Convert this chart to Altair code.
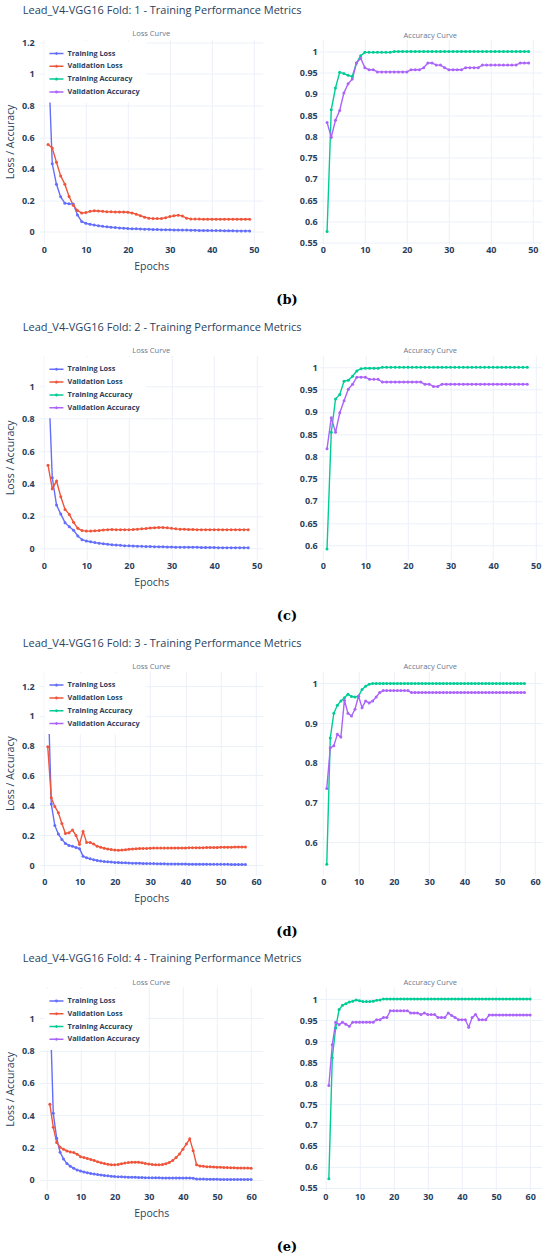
import altair as alt
import pandas as pd

# ---- per-epoch metrics, one list per fold and series ----
F1_TRAIN_LOSS = [1.14, 0.43, 0.30, 0.22, 0.18, 0.176, 0.175, 0.105, 0.064, 0.052,
                 0.046, 0.041, 0.037, 0.033, 0.030, 0.027, 0.025, 0.023, 0.021, 0.019,
                 0.018, 0.017, 0.016, 0.015, 0.014, 0.013, 0.013, 0.012, 0.011, 0.011,
                 0.010, 0.010, 0.009, 0.009, 0.008, 0.008, 0.007, 0.007, 0.007, 0.006,
                 0.006, 0.006, 0.005, 0.005, 0.005, 0.004, 0.004, 0.004, 0.004]
F1_VAL_LOSS = [0.552, 0.53, 0.44, 0.353, 0.30, 0.222, 0.167, 0.133, 0.118, 0.12,
               0.128, 0.132, 0.13, 0.128, 0.126, 0.125, 0.124, 0.124, 0.124, 0.122,
               0.118, 0.11, 0.1, 0.091, 0.085, 0.082, 0.082, 0.083, 0.088, 0.095,
               0.1, 0.104, 0.098, 0.085, 0.08, 0.079, 0.079, 0.078, 0.078, 0.078,
               0.078, 0.078, 0.078, 0.078, 0.078, 0.078, 0.078, 0.078, 0.078]
F1_TRAIN_ACC = [0.576, 0.863, 0.914, 0.951, 0.948, 0.944, 0.941, 0.973, 0.99, 0.998,
                0.998, 0.998, 0.998, 0.998, 0.998, 0.998] + [1.0] * 33
F1_VAL_ACC = ([0.833, 0.798, 0.838, 0.861, 0.902, 0.924, 0.935, 0.973, 0.984, 0.962,
               0.957, 0.957, 0.952] + [0.952] * 7 + [0.957] * 3 + [0.962]
              + [0.973] * 2 + [0.968] * 2 + [0.962] + [0.957] * 4 + [0.962] * 4
              + [0.968] * 9 + [0.973] * 3)

F2_TRAIN_LOSS = [1.116, 0.435, 0.267, 0.211, 0.158, 0.133, 0.111, 0.076, 0.053, 0.045,
                 0.04, 0.035, 0.031, 0.028, 0.025, 0.022, 0.02, 0.018, 0.016, 0.015,
                 0.014, 0.013, 0.012, 0.011, 0.011, 0.010, 0.009, 0.009, 0.008, 0.008,
                 0.007, 0.007, 0.007, 0.006, 0.006, 0.006, 0.005, 0.005, 0.005, 0.005,
                 0.004, 0.004, 0.004, 0.004, 0.004, 0.004, 0.004, 0.004]
F2_VAL_LOSS = ([0.513, 0.368, 0.415, 0.318, 0.24, 0.209, 0.16, 0.123, 0.109, 0.107,
                0.106, 0.108, 0.11, 0.113, 0.115, 0.116, 0.115, 0.115, 0.115, 0.115,
                0.116, 0.118, 0.12, 0.122, 0.125, 0.127, 0.128, 0.128, 0.126, 0.123,
                0.12, 0.118, 0.117, 0.116, 0.116] + [0.115] * 13)
F2_TRAIN_ACC = [0.592, 0.854, 0.929, 0.939, 0.969, 0.971, 0.98, 0.992, 0.997, 0.998,
                0.998, 0.998, 0.998] + [1.0] * 35
F2_VAL_ACC = ([0.817, 0.887, 0.854, 0.898, 0.925, 0.951, 0.962, 0.978, 0.978, 0.978,
               0.973, 0.973, 0.973] + [0.967] * 10 + [0.962] * 2 + [0.957] * 2
              + [0.962] * 21)

F3_TRAIN_LOSS = ([1.22, 0.409, 0.266, 0.208, 0.172, 0.145, 0.132, 0.127, 0.118, 0.11,
                  0.06, 0.049, 0.042, 0.036, 0.031, 0.027, 0.024, 0.022, 0.02, 0.018,
                  0.017, 0.016, 0.015, 0.014, 0.013, 0.012, 0.012, 0.011, 0.011, 0.010,
                  0.010, 0.009, 0.009, 0.009, 0.008, 0.008, 0.008, 0.007, 0.007, 0.007]
                 + [0.006] * 6 + [0.005] * 6 + [0.004] * 5)
F3_VAL_LOSS = ([0.793, 0.451, 0.393, 0.351, 0.279, 0.212, 0.217, 0.235, 0.199, 0.139,
                0.226, 0.152, 0.152, 0.141, 0.127, 0.12, 0.113, 0.108, 0.104, 0.101,
                0.1, 0.101, 0.103, 0.106, 0.108, 0.11, 0.111, 0.112, 0.112, 0.113]
               + [0.114] * 5 + [0.115] * 5 + [0.117] * 5 + [0.118] * 4
               + [0.12] * 4 + [0.121] * 4)
F3_TRAIN_ACC = [0.545, 0.863, 0.925, 0.945, 0.956, 0.964, 0.973, 0.967, 0.966, 0.968,
                0.985, 0.993, 0.998] + [1.0] * 44
F3_VAL_ACC = ([0.736, 0.838, 0.843, 0.872, 0.865, 0.958, 0.925, 0.918, 0.935, 0.968,
               0.939, 0.956, 0.951, 0.956, 0.966, 0.977, 0.982] + [0.982] * 7
              + [0.977] * 33)

F4_TRAIN_LOSS = ([1.117, 0.412, 0.258, 0.171, 0.13, 0.101, 0.085, 0.072, 0.062, 0.055,
                  0.049, 0.044, 0.04, 0.036, 0.033, 0.03, 0.027, 0.025, 0.023, 0.021,
                  0.02, 0.019, 0.018, 0.017, 0.017, 0.016, 0.015, 0.015, 0.014, 0.014,
                  0.013, 0.013, 0.013, 0.012, 0.012, 0.012, 0.012, 0.012, 0.012, 0.012,
                  0.012, 0.012, 0.01, 0.006, 0.005, 0.005, 0.004, 0.004, 0.004, 0.004]
                 + [0.003] * 10)
F4_VAL_LOSS = [0.468, 0.326, 0.231, 0.202, 0.19, 0.179, 0.173, 0.169, 0.159, 0.144,
               0.138, 0.133, 0.127, 0.12, 0.112, 0.106, 0.101, 0.097, 0.094, 0.093,
               0.096, 0.1, 0.104, 0.107, 0.109, 0.11, 0.109, 0.106, 0.102, 0.098,
               0.095, 0.093, 0.093, 0.095, 0.1, 0.108, 0.12, 0.138, 0.16, 0.19,
               0.222, 0.254, 0.181, 0.094, 0.086, 0.084, 0.082, 0.081, 0.08, 0.079,
               0.078, 0.077, 0.076, 0.075, 0.075, 0.074, 0.074, 0.073, 0.073, 0.072]
F4_TRAIN_ACC = [0.572, 0.86, 0.931, 0.975, 0.985, 0.989, 0.993, 0.995, 0.998, 0.996,
                0.994, 0.994, 0.994, 0.995, 0.997, 0.998, 1.0] + [1.0] * 43
F4_VAL_ACC = ([0.794, 0.891, 0.945, 0.939, 0.945, 0.94, 0.935, 0.945, 0.945, 0.945,
               0.945, 0.945, 0.945, 0.945, 0.951, 0.951, 0.956, 0.956, 0.972, 0.972,
               0.972, 0.972, 0.972, 0.972, 0.967, 0.967, 0.967, 0.963, 0.967, 0.963,
               0.963, 0.963, 0.956, 0.956, 0.956, 0.967, 0.961, 0.956, 0.951, 0.951,
               0.951, 0.933, 0.956, 0.963, 0.951, 0.951, 0.951, 0.962, 0.962, 0.962]
              + [0.962] * 10)

SERIES = ["Training Loss", "Validation Loss", "Training Accuracy", "Validation Accuracy"]
COLORS = ["#636efa", "#ef553b", "#00cc96", "#ab63fa"]

FOLDS = [
    (F1_TRAIN_LOSS, F1_VAL_LOSS, F1_TRAIN_ACC, F1_VAL_ACC),
    (F2_TRAIN_LOSS, F2_VAL_LOSS, F2_TRAIN_ACC, F2_VAL_ACC),
    (F3_TRAIN_LOSS, F3_VAL_LOSS, F3_TRAIN_ACC, F3_VAL_ACC),
    (F4_TRAIN_LOSS, F4_VAL_LOSS, F4_TRAIN_ACC, F4_VAL_ACC),
]
FOLD_TITLES = [f"Lead_V4-VGG16 Fold: {k} - Training Performance Metrics" for k in (1, 2, 3, 4)]
CAPTIONS = ["(b)", "(c)", "(d)", "(e)"]

# axis ranges and tick values for each fold
EPOCH_DOMAINS = [[-0.98, 52.12], [-0.94, 51.41], [-1.27, 61.9], [-1.96, 63.4]]
EPOCH_TICKS = [[0, 10, 20, 30, 40, 50], [0, 10, 20, 30, 40, 50],
               [0, 10, 20, 30, 40, 50, 60], [0, 10, 20, 30, 40, 50, 60]]
LOSS_DOMAINS = [[-0.076, 1.219], [-0.068, 1.191], [-0.067, 1.30], [-0.068, 1.194]]
LOSS_TICKS = [0, 0.2, 0.4, 0.6, 0.8, 1, 1.2]
ACC_DOMAINS = [[0.5476, 1.0283], [0.569, 1.027], [0.518, 1.031], [0.543, 1.029]]
ACC_TICKS = [[0.55, 0.6, 0.65, 0.7, 0.75, 0.8, 0.85, 0.9, 0.95, 1],
             [0.55, 0.6, 0.65, 0.7, 0.75, 0.8, 0.85, 0.9, 0.95, 1],
             [0.6, 0.7, 0.8, 0.9, 1],
             [0.55, 0.6, 0.65, 0.7, 0.75, 0.8, 0.85, 0.9, 0.95, 1]]

PLOT_W = 223
PLOT_H = 204
INK = "#2a3f5f"

LEGEND = alt.Legend(
    title=None, orient="none", legendX=4.7, legendY=2,
    fillColor="white", padding=6,
    symbolType="M-1.4,0H1.4M0.15,0A0.15,0.15,0,1,1,-0.15,0A0.15,0.15,0,1,1,0.15,0",
    symbolSize=100, symbolStrokeWidth=1.5,
    labelFont="Open Sans", labelFontSize=7.3, labelFontWeight="bold",
    labelColor=INK, labelOffset=5, rowPadding=2.8,
)


def long_frame(names, lists):
    rows = []
    for name, values in zip(names, lists):
        for epoch, v in enumerate(values, start=1):
            rows.append({"epoch": epoch, "value": v, "series": name})
    return pd.DataFrame(rows)


def curve(df, xdom, xticks, ydom, yticks, subtitle, is_loss):
    ticks_y = [t for t in yticks if ydom[0] <= t <= ydom[1]]
    ticks_x = [t for t in xticks if xdom[0] <= t <= xdom[1]]
    x = alt.X("epoch:Q",
              scale=alt.Scale(domain=xdom, nice=False, zero=False),
              axis=alt.Axis(values=ticks_x, format="~r", labelPadding=2,
                            titlePadding=7),
              title="Epochs" if is_loss else None)
    if is_loss:
        yaxis = alt.Axis(values=ticks_y, format="~r", labelPadding=5.5,
                         minExtent=18, maxExtent=18, titlePadding=6.75)
    else:
        yaxis = alt.Axis(values=ticks_y, format="~r", labelPadding=1.5)
    y = alt.Y("value:Q", scale=alt.Scale(domain=ydom, nice=False, zero=False),
              axis=yaxis, title="Loss / Accuracy" if is_loss else None)
    color = alt.Color("series:N", scale=alt.Scale(domain=SERIES, range=COLORS),
                      legend=LEGEND if is_loss else None)
    base = alt.Chart(df).encode(x=x, y=y, color=color)
    lines = base.mark_line(strokeWidth=1.4, clip=True)
    dots = base.mark_circle(size=9, opacity=1, clip=True)
    return alt.layer(lines, dots).properties(
        width=PLOT_W, height=PLOT_H,
        title=alt.TitleParams(subtitle, fontSize=7.5, fontWeight="normal",
                              color="#6a7890", offset=0.5, anchor="middle"),
    )


blocks = []
for i, (tl, vl, ta, va) in enumerate(FOLDS):
    loss_df = long_frame(SERIES[:2], [tl, vl])
    acc_df = long_frame(SERIES[2:], [ta, va])
    left = curve(loss_df, EPOCH_DOMAINS[i], EPOCH_TICKS[i], LOSS_DOMAINS[i],
                 LOSS_TICKS, "Loss Curve", True)
    right = curve(acc_df, EPOCH_DOMAINS[i], EPOCH_TICKS[i], ACC_DOMAINS[i],
                  ACC_TICKS[i], "Accuracy Curve", False)
    row = alt.hconcat(
        left, right, spacing=56, bounds="flush",
        title=alt.TitleParams(FOLD_TITLES[i], anchor="start", fontSize=11,
                              fontWeight="normal", color=INK, offset=14, dx=18.25),
    ).resolve_scale(x="independent", y="independent", color="independent")
    block = alt.vconcat(
        row,
        title=alt.TitleParams(CAPTIONS[i], orient="bottom", anchor="middle",
                              font="DejaVu Serif", fontSize=13, fontWeight="bold",
                              color="black", offset=21.4, dx=13.6),
    ).resolve_scale(x="independent", y="independent", color="independent")
    blocks.append(block)

chart = (
    alt.vconcat(*blocks, spacing=13.8)
    .resolve_scale(x="independent", y="independent", color="independent")
    .properties(padding={"left": 3.75, "top": 4.5, "right": 0, "bottom": 0})
    .configure_view(stroke="transparent")
    .configure_axis(grid=True, gridColor="#ebf0f8", gridWidth=1, domain=False,
                    ticks=False, labelFont="Open Sans", labelFontSize=9,
                    labelFontWeight="bold", labelColor=INK, titleFont="Open Sans",
                    titleFontSize=10.5, titleFontWeight="normal", titleColor=INK)
    .configure_title(font="Open Sans", color=INK)
)

chart.save("out.html", embed_options={"renderer": "svg", "actions": False})
